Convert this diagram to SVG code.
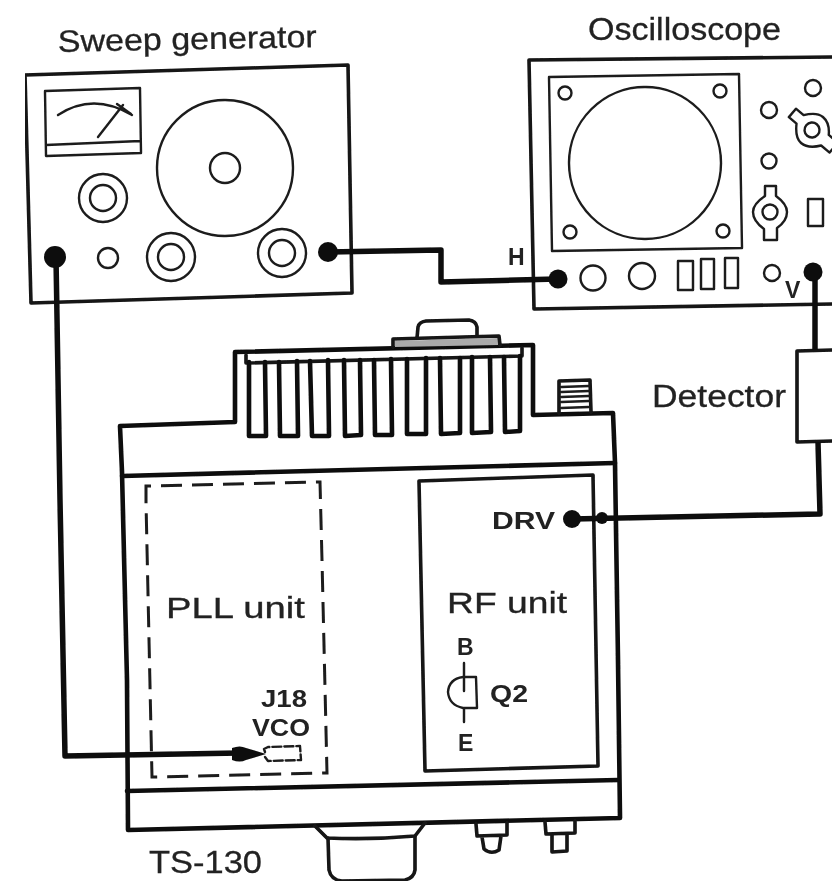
<svg xmlns="http://www.w3.org/2000/svg" width="832" height="884" viewBox="0 0 832 884">
<style>
text{font-family:"Liberation Sans",Arial,sans-serif;fill:#222}
.l{font-size:31px;stroke:#222;stroke-width:.3}
.b{font-size:23px;font-weight:bold}
.s{fill:none;stroke:#1c1c1c;stroke-width:2.4;stroke-linejoin:round;stroke-linecap:round}
.m{fill:none;stroke:#141414;stroke-width:3.6;stroke-linejoin:round;stroke-linecap:round}
.t{fill:none;stroke:#111;stroke-width:4.6;stroke-linejoin:round;stroke-linecap:round}
.c{fill:none;stroke:#0c0c0c;stroke-width:5.5;stroke-linejoin:round}
.d{fill:#0c0c0c}
.da{fill:none;stroke:#1c1c1c;stroke-width:3;stroke-dasharray:21 10}
</style>
<defs>
<filter id="soft" x="0" y="0" width="100%" height="100%"><feGaussianBlur stdDeviation="0.5"/></filter>
<g id="knob">
<path class="s" stroke-width="3" d="M-5 -26 L6 -26 L6 -16 Q17 -8 17 0 Q17 9 7 16 L7 28 L-6 28 L-6 17 Q-17 9 -17 0 Q-17 -8 -5 -16Z"/>
<circle class="s" r="7.500" stroke-width="3.200"/>
</g>
</defs>
<rect width="832" height="884" fill="#fff"/>
<g filter="url(#soft)">
<g id="sweep-generator">
<text class="l" x="58" y="52" textLength="259" lengthAdjust="spacingAndGlyphs" transform="rotate(-1.100 58 52)">Sweep generator</text>
<path class="m" d="M25 75 L348 65 L352 293 L31 303Z"/>
<path class="s" d="M45 91 L140 88 L141 153 L46 156Z M46 145 L140 141 M58 115 Q93 92 132 115 M98 137 L123 105 M117 104 L131 114"/>
<circle class="s" cx="225" cy="168" r="68"/><circle class="s" cx="225" cy="168" r="15"/>
<circle class="s" cx="103" cy="198" r="24"/><circle class="s" cx="103" cy="198" r="13"/>
<circle class="s" cx="108" cy="258" r="10"/>
<circle class="s" cx="171" cy="257" r="24"/><circle class="s" cx="171" cy="257" r="13"/>
<circle class="s" cx="282" cy="253" r="24"/><circle class="s" cx="282" cy="253" r="13"/>
</g>
<g id="oscilloscope">
<text class="l" x="588" y="40" textLength="193" lengthAdjust="spacingAndGlyphs">Oscilloscope</text>
<path class="m" d="M832 57 L529 60 L534 309 L832 304"/>
<path class="s" d="M549 77 L739 74 L742 248 L552 251Z"/>
<circle class="s" cx="645" cy="163" r="76"/>
<circle class="s" cx="565" cy="93" r="6.500"/><circle class="s" cx="720" cy="91" r="6.500"/><circle class="s" cx="570" cy="232" r="6.500"/><circle class="s" cx="723" cy="231" r="6.500"/>
<circle class="s" cx="813" cy="88" r="8"/><circle class="s" cx="769" cy="110" r="8"/><circle class="s" cx="769" cy="161" r="7.500"/>
<use href="#knob" transform="translate(812 130) rotate(-50)"/>
<use href="#knob" transform="translate(770 212)"/>
<rect class="s" x="808" y="199" width="15" height="27"/>
<circle class="s" cx="593" cy="278" r="12.500"/><circle class="s" cx="642" cy="276" r="13"/>
<rect class="s" x="678" y="261" width="15" height="29"/><rect class="s" x="701" y="259" width="13" height="30"/><rect class="s" x="725" y="258" width="13" height="30"/>
<circle class="s" cx="772" cy="273" r="8"/>
<text class="b" x="508" y="265">H</text>
<text class="b" x="785" y="298">V</text>
</g>
<g id="detector">
<text class="l" x="652" y="407" textLength="134" lengthAdjust="spacingAndGlyphs">Detector</text>
<path class="m" d="M832 350 L797 351 L797 442 L832 441"/>
</g>
<g id="ts-130">
<path class="t" d="M128 830 L620 818 L618 660 L615 463 L613 413 L533 415 L533 345 L235 352 L235 422 L120 426 L122 472 L127 680Z"/>
<path class="t" d="M122 476 L615 463 M127 791 L618 780"/>
<path class="m" d="M246 355 L246 363 L522 356 L522 348"/>
<path class="t" d="M249 362 L249 436 L266 436 L265 362 M279 362 L280 436 L298 436 L297 361 M310 361 L312 436 L329 436 L328 360 M344 360 L345 436 L361 435 L360 360 M374 360 L375 435 L392 435 L391 359 M407 359 L407 434 L426 434 L426 358 M440 358 L441 434 L460 433 L460 358 M472 357 L472 433 L491 432 L490 357 M504 357 L505 432 L520 431 L520 356"/>
<path d="M395 341 L498 338 L498 345 L395 347Z" fill="#aaa"/>
<path class="m" stroke-width="3" d="M393 347 L393 339 L499 336 L500 345"/>
<path class="m" d="M417 338 L418 327 Q419 322 426 321 L469 320 Q476 321 477 327 L477 336"/>
<path class="m" d="M559 413 L559 381 L590 380 L591 412"/>
<path class="s" stroke-width="2.600" d="M561 387 L589 386 M561 392 L589 391 M561 397 L589 396 M561 402 L589 401 M561 408 L589 407"/>
<path class="da" d="M146 502 L146 486 L320 482 L322 560 L327 773 L152 777 L146 502"/>
<path class="m" d="M419 481 L593 475 L598 766 L425 771Z"/>
<path class="s" stroke-width="2.800" d="M265 752 L264 749 L268 747 L300 746 L301 760 L268 761 L265 757" stroke-dasharray="9 3"/>
<path class="s" d="M464 663 L464 691 M464 709 L464 722"/>
<path class="s" stroke-width="3" d="M476 677 L463 677 Q449 679 448 692 Q449 705 463 708 L477 708Z"/>
<text class="l" x="166" y="618" style="font-size:30px" textLength="139" lengthAdjust="spacingAndGlyphs">PLL unit</text>
<text class="l" x="447" y="613" style="font-size:30px" textLength="120" lengthAdjust="spacingAndGlyphs">RF unit</text>
<text class="b" x="492" y="529" textLength="63" lengthAdjust="spacingAndGlyphs">DRV</text>
<text class="b" x="457" y="655">B</text>
<text class="b" x="490" y="702" textLength="38" lengthAdjust="spacingAndGlyphs">Q2</text>
<text class="b" x="458" y="751">E</text>
<text class="b" x="261" y="707" textLength="46" lengthAdjust="spacingAndGlyphs">J18</text>
<text class="b" x="252" y="736" textLength="58" lengthAdjust="spacingAndGlyphs">VCO</text>
<path class="m" d="M315 826 L327 838 Q370 840 415 836 L425 823"/>
<path class="m" d="M328 838 L329 870 Q331 880 342 881 L405 880 Q414 878 415 870 L415 836"/>
<path class="m" d="M476 824 L477 836 L507 835 L507 823 M482 837 L484 849 Q491 855 499 850 L501 836"/>
<path class="m" d="M545 822 L546 834 L575 833 L575 821 M552 835 L552 852 L567 851 L567 834"/>
<text class="l" x="149" y="873" style="font-size:32px" textLength="113" lengthAdjust="spacingAndGlyphs">TS-130</text>
</g>
<g id="connectors">
<circle class="d" cx="55" cy="257" r="11"/>
<path class="c" d="M56 257 L60 500 L65 756 L240 753"/>
<path class="d" d="M232 748 Q240 745 246 748 L266 754 L246 760 Q240 763 232 760Z"/>
<circle class="d" cx="328" cy="252" r="10"/>
<path class="c" d="M328 252 L441 250 L441 282 L558 279"/>
<circle class="d" cx="558" cy="279" r="9.500"/>
<circle class="d" cx="813" cy="272" r="9.500"/>
<path class="c" d="M815 272 L815 350 M818 442 L820 514 L572 519"/>
<circle class="d" cx="572" cy="519" r="9"/>
<circle class="d" cx="602" cy="518" r="6"/>
</g>
</g>
</svg>
